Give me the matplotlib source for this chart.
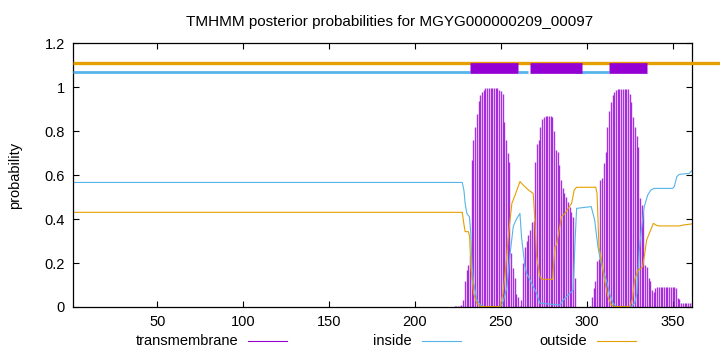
import matplotlib
matplotlib.use("Agg")
import matplotlib.pyplot as plt
from matplotlib.lines import Line2D

plt.rcParams["font.family"] = ["Liberation Sans", "DejaVu Sans"]

# =============================
# DATA
# =============================
title = "TMHMM posterior probabilities for MGYG000000209_00097"
seq_len = 361
residues = list(range(1, seq_len + 1))

# posterior for transmembrane, one value per residue
tm_prob = [0.002] * 221 + [
    0.002, 0.003, 0.003, 0.004, 0.005, 0.01, 0.03, 0.12, 0.17, 0.19,      # 222-231
    0.23, 0.67, 0.76, 0.82, 0.88, 0.94, 0.965, 0.98, 0.99, 0.995,         # 232-241
    0.995, 0.995, 0.995, 0.995, 0.995, 0.995, 0.995, 0.99, 0.985, 0.97,   # 242-251
    0.84, 0.76, 0.70, 0.66, 0.244, 0.176, 0.13, 0.06, 0.045, 0.005,       # 252-261
    0.03, 0.20, 0.275, 0.30, 0.33, 0.35, 0.385, 0.39, 0.66, 0.74,         # 262-271
    0.76, 0.82, 0.855, 0.866, 0.868, 0.868, 0.868, 0.868, 0.866, 0.80,    # 272-281
    0.715, 0.705, 0.645, 0.578, 0.54, 0.52, 0.50, 0.48, 0.457, 0.434,     # 282-291
    0.41, 0.13, 0.002, 0.001, 0.001, 0.001, 0.001, 0.001, 0.001, 0.001,   # 292-301
    0.005, 0.047, 0.085, 0.12, 0.21, 0.22, 0.578, 0.585, 0.654, 0.707,    # 302-311
    0.82, 0.89, 0.935, 0.965, 0.98, 0.99, 0.992, 0.992, 0.992, 0.992,     # 312-321
    0.992, 0.992, 0.992, 0.97, 0.935, 0.866, 0.82, 0.78, 0.73, 0.495,     # 322-331
    0.464, 0.434, 0.19, 0.18, 0.13, 0.12, 0.077, 0.07, 0.085, 0.093,      # 332-341
    0.093, 0.093, 0.093, 0.093, 0.093, 0.093, 0.093, 0.093, 0.093, 0.093, # 342-351
    0.085, 0.04, 0.035, 0.017, 0.017, 0.017, 0.017, 0.017, 0.017, 0.017,  # 352-361
]

inside_x = [1, 227.5, 228.5, 229.2, 230.2, 231.7, 232.5, 233.1, 234.1, 236,
            238, 240, 250, 251.5, 253.5, 255.4, 257.2, 259, 261.1, 262,
            264, 265, 267.9, 270.8, 272.7, 284.4, 286.3, 289.2, 292.1, 293.2,
            294.1, 302.6, 304.6, 306.5, 307.9, 309.4, 311.4, 313.3, 315.3, 317.2,
            326, 327.9, 329.2, 330.5, 331.5, 333.5, 335.5, 337.4, 339.3, 350,
            351, 352.4, 353.9, 359.7, 361]
inside_y = [0.567, 0.567, 0.53, 0.47, 0.426, 0.41, 0.33, 0.20, 0.11, 0.032,
            0.009, 0.002, 0.002, 0.03, 0.09, 0.244, 0.366, 0.40, 0.426, 0.32,
            0.184, 0.153, 0.108, 0.062, 0.017, 0.009, 0.032, 0.055, 0.077, 0.30,
            0.449, 0.457, 0.396, 0.275, 0.214, 0.169, 0.123, 0.062, 0.017, 0.002,
            0.002, 0.017, 0.062, 0.25, 0.33, 0.457, 0.51, 0.533, 0.54, 0.54,
            0.548, 0.593, 0.604, 0.608, 0.62]

outside_x = [1, 227.5, 228.6, 229.2, 231.1, 231.8, 232.5, 234.1, 236, 238,
             249.6, 251.2, 252.5, 254.5, 256.4, 258.3, 261.1, 263, 266, 268.8,
             269.8, 270.8, 272.7, 273.7, 280.1, 281.5, 282.4, 285.3, 287.3, 289.2,
             291.2, 292.7, 294.1, 305.2, 306, 307.1, 308.5, 310.4, 312.3, 314.3,
             316, 325, 326.5, 327.9, 329.8, 331.8, 332.5, 333.5, 334.9, 336.4,
             338.8, 340.3, 342, 354, 356, 361]
outside_y = [0.431, 0.431, 0.37, 0.343, 0.343, 0.32, 0.184, 0.062, 0.017, 0.002,
             0.002, 0.062, 0.153, 0.335, 0.472, 0.51, 0.571, 0.555, 0.533, 0.517,
             0.396, 0.229, 0.138, 0.126, 0.126, 0.275, 0.282, 0.411, 0.426, 0.449,
             0.472, 0.533, 0.545, 0.545, 0.517, 0.275, 0.214, 0.123, 0.047, 0.009,
             0.002, 0.002, 0.032, 0.123, 0.168, 0.176, 0.184, 0.229, 0.305, 0.335,
             0.381, 0.373, 0.369, 0.369, 0.373, 0.378]

# predicted topology bars drawn above the curves
inside_segments = [(1, 232), (260, 266), (293, 313)]
tm_segments = [(232, 260), (267, 297), (313, 335)]
outside_segments = [(1, 378)]

xticks = [50, 100, 150, 200, 250, 300, 350]
yticks = [0, 0.2, 0.4, 0.6, 0.8, 1.0, 1.2]
ytick_labels = ["0", "0.2", "0.4", "0.6", "0.8", "1", "1.2"]

PURPLE = "#9400d3"
BLUE = "#56b4e9"
ORANGE = "#e69f00"

# =============================
# PLOT
# =============================
W, H = 720, 352
fig = plt.figure(figsize=(W / 100, H / 100), dpi=100)
ax = fig.add_axes([73.3 / W, 45 / H, (691.5 - 73.3) / W, (307 - 43.4) / H])

ax.vlines(residues, 0, tm_prob, colors=PURPLE, lw=1.0, alpha=0.8)
ax.plot(inside_x, inside_y, color=BLUE, lw=0.8)
ax.plot(outside_x, outside_y, color=ORANGE, lw=0.8)

for a, b in outside_segments:
    ax.plot([a, b], [1.109, 1.109], color=ORANGE, lw=2.4,
            solid_capstyle="butt", clip_on=False, zorder=3)
for a, b in inside_segments:
    ax.plot([a, b], [1.068, 1.068], color=BLUE, lw=2.0,
            solid_capstyle="butt", clip_on=False, zorder=3)
for a, b in tm_segments:
    ax.plot([a, b], [1.088, 1.088], color=PURPLE, lw=7.7,
            solid_capstyle="butt", clip_on=False, zorder=4)

ax.set_xlim(1, seq_len)
ax.set_ylim(0, 1.2)
ax.set_xticks(xticks)
ax.set_xticklabels([str(t) for t in xticks])
ax.set_yticks(yticks)
ax.set_yticklabels(ytick_labels)
ax.tick_params(direction="in", top=True, right=True, length=4, width=0.8,
               labelsize=10.5, pad=6)
for s in ax.spines.values():
    s.set_linewidth(0.9)

fig.text(390 / W, 1 - 22 / H, title, ha="center", va="center", fontsize=11)
fig.text(15 / W, 1 - 175 / H, "probability", rotation=90,
         ha="center", va="center", fontsize=10.5)

# legend along the bottom, gnuplot style (text then sample)
legend_items = [("transmembrane", PURPLE, 238.6, 247.8, 286.8),
                ("inside", BLUE, 412, 422, 461),
                ("outside", ORANGE, 586.5, 596.6, 635.6)]
ly = 1 - 341 / H
for label, col, tx, x0, x1 in legend_items:
    fig.text(tx / W, ly, label, ha="right", va="center", fontsize=10.5)
    fig.add_artist(Line2D([x0 / W, x1 / W], [ly, ly], color=col, lw=0.8,
                          transform=fig.transFigure))

fig.savefig("out.png", dpi=100)
print("Saved out.png")
